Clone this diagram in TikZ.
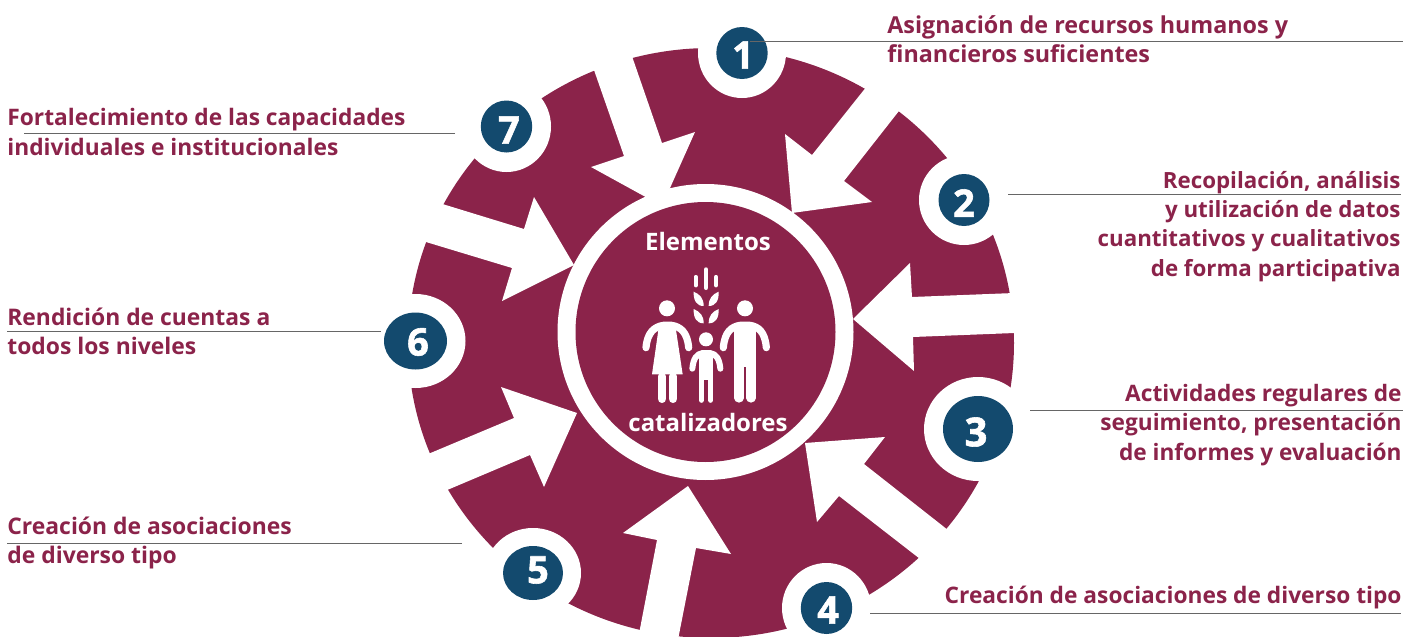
\documentclass[tikz,border=0pt]{standalone}
\usepackage{fontspec}
\setmainfont{Open Sans}
\newfontfamily\heavy{Open Sans}[BoldFeatures={FakeBold=1.5}]
\usetikzlibrary{shapes.geometric}
\definecolor{wine}{HTML}{8B234A}
\definecolor{navy}{HTML}{134A6E}
\tikzset{
    caption/.style={text=wine, inner sep=0, font=\fontsize{#1}{14.6}\selectfont\bfseries},
    inner/.style={text=white, inner sep=0, font=\fontsize{12}{14}\selectfont\bfseries},
    leader/.style={draw=black!60, line width=0.45pt},
    numdot/.style={ellipse, fill=navy, inner sep=0},
    digit/.style={text=white, inner sep=0, font=\heavy\bfseries},
    limb/.style={draw=white, line cap=round, line join=round, fill=none},
    bar/.style={draw=white, line cap=round, line width=#1}
}
\begin{document}
\begin{tikzpicture}[x=0.5pt, y=-0.5pt]
    \useasboundingbox (0,0) rectangle (1405,637);
    % disc
    \fill[wine] (711,343) ellipse [x radius=303, y radius=295];
    % arrows
    \fill[white] (792,213) -- (872,202) -- (844,181) -- (917,88) -- (883,66) -- (812,155) -- (785,134) -- cycle;
    \fill[white] (853,319) -- (910,263) -- (912,297) -- (1040,292) -- (1040,332) -- (913,337) -- (914,371) -- cycle;
    \fill[white] (805,443) -- (885,437) -- (864,464) -- (967,545) -- (942,576) -- (839,496) -- (817,522) -- cycle;
    \fill[white] (688,486) -- (731,554) -- (696,548) -- (674,660) -- (634,660) -- (657,540) -- (623,533) -- cycle;
    \fill[white] (577,413) -- (544,487) -- (530,455) -- (407,507) -- (390,470) -- (514,418) -- (501,387) -- cycle;
    \fill[white] (574,265) -- (502,301) -- (512,268) -- (383,229) -- (400,191) -- (524,229) -- (534,197) -- cycle;
    \fill[white] (662,206) -- (591,167) -- (624,156) -- (587,50) -- (625,36) -- (662,143) -- (695,132) -- cycle;
    % centre
    \fill[white] (705.5,332) circle [radius=148];
    \fill[wine] (705.5,332) circle [radius=130];
    \node[inner] (top) at (708,241) {Elementos};
    \node[inner] (bottom) at (708,422) {catalizadores};
    % family
    \begin{scope}[shift={(560,180)}, x=0.16667pt, y=-0.16667pt]
        \fill[white] (321,385) circle [radius=24];
        \fill[white] (555,385) circle [radius=24];
        \fill[white] (438,478) circle [radius=21];
        % woman
        \draw[limb, line width=3.6pt] (258,503) .. controls (262,455) and (285,440) .. (310,436) -- (335,436) .. controls (360,440) and (382,455) .. (386,503);
        \fill[white] (298,430) -- (345,430) -- (368,583) -- (276,583) -- cycle;
        \draw[bar=4.4pt] (306,590) -- (306,656);
        \draw[bar=4.4pt] (339,590) -- (339,656);
        % man
        \draw[limb, line width=3.6pt] (490,503) .. controls (494,455) and (515,440) .. (540,436) -- (570,436) .. controls (595,440) and (615,455) .. (619,503);
        \fill[white] (523,430) -- (587,430) -- (587,560) -- (523,560) -- cycle;
        \draw[bar=4.6pt] (537,560) -- (537,654);
        \draw[bar=4.6pt] (573,560) -- (573,654);
        % child
        \draw[limb, line width=3pt] (397,566) .. controls (400,535) and (410,522) .. (428,519) -- (450,519) .. controls (468,522) and (478,535) .. (481,566);
        \fill[white] (417,515) -- (459,515) -- (459,600) -- (417,600) -- cycle;
        \draw[bar=2.5pt] (424,600) -- (424,661);
        \draw[bar=2.5pt] (452,600) -- (452,661);
        % wheat
        \draw[bar=2.4pt] (438,269) -- (438,323);
        \draw[bar=2.1pt] (407,291) -- (407,316);
        \draw[bar=2.1pt] (468,291) -- (468,316);
        \foreach \d in {0,52} {
            \fill[white] (401,335+\d) .. controls (420,343+\d) and (431,355+\d) .. (431,378+\d) .. controls (410,378+\d) and (400,362+\d) .. cycle;
            \fill[white] (476,335+\d) .. controls (457,343+\d) and (446,355+\d) .. (446,378+\d) .. controls (467,378+\d) and (477,362+\d) .. cycle;
        }
    \end{scope}
    % numbers
    \foreach \n/\cx/\cy/\rx/\ry/\hx/\hy/\tx/\ty/\fs in {
        1/742/53/25.7/26/44/45/743/55/19,
        2/964/200/25.5/26/45/45/964/203/19,
        3/978/429/35/33/54/52/976/432/20,
        4/826.5/608/25.7/26/44.5/45/828/610/19,
        5/533/573/30/27/48/45/538/570/19,
        6/415.5/341/31.5/28.5/50/47/418/342/19,
        7/506.5/126.5/25.7/26/44.5/45.5/509/130/19} {
        \fill[white] (\cx,\cy) ellipse [x radius=\hx, y radius=\hy];
        \node[numdot, minimum width=\rx pt, minimum height=\ry pt] (n\n) at (\cx,\cy) {};
        \node[digit] (d\n) at (\tx,\ty) {\fontsize{\fs}{\fs}\selectfont\n};
    }
    % texts
    \node[caption=11.66, anchor=west, align=left] (t1) at (887,39) {Asignación de recursos humanos y\\financieros suficientes};
    \node[caption=11.16, anchor=east, align=right] (t2) at (1401,226.5) {Recopilación, análisis\\y utilización de datos\\cuantitativos y cualitativos\\de forma participativa};
    \node[caption=11.33, anchor=east, align=right] (t3) at (1402,425) {Actividades regulares de\\seguimiento, presentación\\de informes y evaluación};
    \node[caption=11.37, anchor=east] (t4) at (1402,598) {Creación de asociaciones de diverso tipo};
    \node[caption=11.44, anchor=west, align=left] (t5) at (7,543) {Creación de asociaciones\\de diverso tipo};
    \node[caption=11.43, anchor=west, align=left] (t6) at (7,331) {Rendición de cuentas a\\todos los niveles};
    \node[caption=11.37, anchor=west, align=left] (t7) at (7,132) {Fortalecimiento de las capacidades\\individuales e institucionales};
    % leaders
    \coordinate (e1) at (1403,41);
    \coordinate (s1) at (750,41);
    \coordinate (e2) at (1401,194);
    \coordinate (s2) at (1008,194);
    \coordinate (e3) at (1403,410);
    \coordinate (s3) at (1030,410);
    \coordinate (e4) at (1401,613);
    \coordinate (s4) at (870,613);
    \coordinate (e5) at (7,543);
    \coordinate (s5) at (462,543);
    \coordinate (e6) at (7,331);
    \coordinate (s6) at (381,331);
    \coordinate (e7) at (24,133);
    \coordinate (s7) at (455,133);
    \foreach \n in {1,...,7} {
        \draw[leader] (s\n) -- (e\n);
    }
\end{tikzpicture}
\end{document}
